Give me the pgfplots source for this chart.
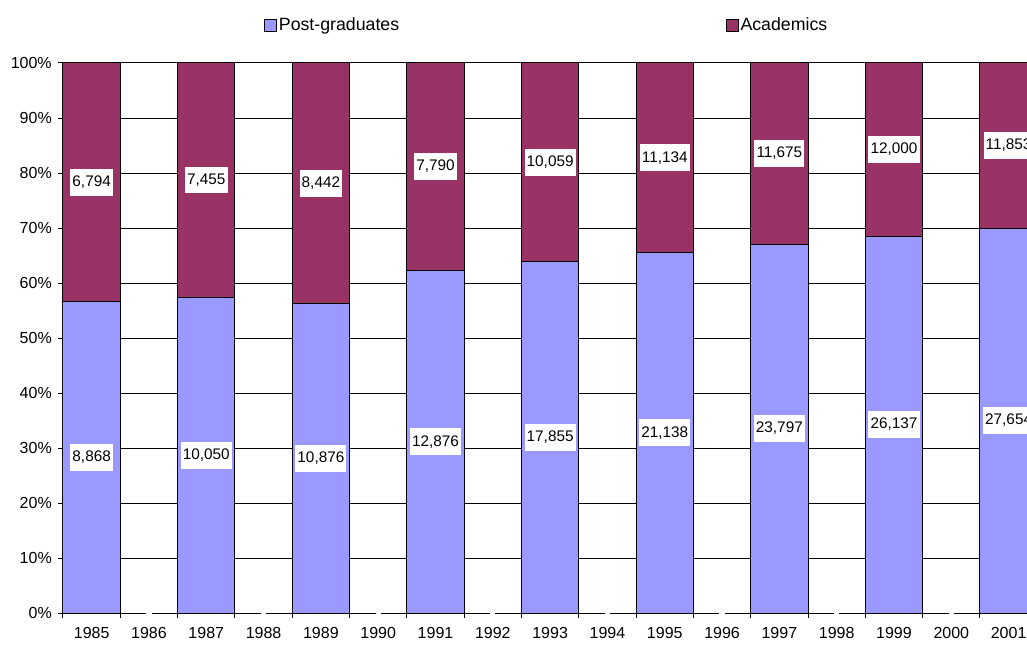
\documentclass[border=0pt]{standalone}
\usepackage{pgfplots}
\pgfplotsset{compat=1.18}
\usepackage{fontspec}
\setmainfont{Liberation Sans}
\definecolor{pg}{HTML}{9999FF}
\definecolor{ac}{HTML}{993366}
\pgfplotstableread{
x y lab
0 28.31 8,868
2 28.71 10,050
4 28.15 10,876
6 31.15 12,876
8 31.98 17,855
10 32.75 21,138
12 33.54 23,797
14 34.27 26,137
16 35.00 27,654
0 78.31 6,794
2 78.71 7,455
4 78.15 8,442
6 81.16 7,790
8 81.98 10,059
10 82.75 11,134
12 83.55 11,675
14 84.27 12,000
16 85.00 11,853
}\labels
\begin{document}
\fontsize{12}{14}\selectfont
\begin{tikzpicture}[x=1pt,y=1pt]
\path[use as bounding box] (0,0) rectangle (770.25,483);
\clip (0,0) rectangle (770.25,483);
\pgfplotsset{
  common/.style={
    at={(47.25pt,23.25pt)}, anchor=south west,
    scale only axis, width=730.7pt, height=412.5pt,
    xmin=-0.5, xmax=16.5, ymin=0, ymax=100,
  }
}
\begin{axis}[common,
  ybar stacked, bar width=1,
  axis x line=bottom, axis y line=left,
  axis line style={-, black, line width=0.75pt},
  tick align=outside,
  major tick length=3.75pt,
  minor tick length=3.75pt,
  xtick={0,1,...,16},
  xticklabels={1985,1986,1987,1988,1989,1990,1991,1992,1993,1994,1995,1996,1997,1998,1999,2000,2001},
  minor xtick={-0.5,0.5,...,16.5},
  major x tick style={draw=none},
  minor x tick style={black, line width=0.75pt},
  ytick={0,10,...,100},
  yticklabels={0\%,10\%,20\%,30\%,40\%,50\%,60\%,70\%,80\%,90\%,100\%},
  y tick style={black, line width=0.75pt},
  ymajorgrids,
  major grid style={black, line width=0.75pt},
  xticklabel style={yshift=-3pt},
  yticklabel style={xshift=-0.5pt},
  tick label style={font=\fontsize{12}{14}\selectfont},
  legend image code/.code={\draw[#1,draw=black,line width=0.7pt] (0pt,-4.4pt) rectangle (8.8pt,4.4pt);},
  legend style={at={(0.2063,1.068)}, anchor=west, draw=none, fill=none, inner sep=0pt,
    legend columns=2, font=\fontsize{13.3}{15}\selectfont,
    nodes={inner xsep=1.5pt},
    /tikz/every even column/.append style={column sep=243.5pt}},
  legend cell align=left,
]
\addplot[fill=pg, draw=black, line width=0.75pt] coordinates {(0,56.62) (2,57.41) (4,56.30) (6,62.31) (8,63.96) (10,65.50) (12,67.09) (14,68.53) (16,70.00)};
\addplot[fill=ac, draw=black, line width=0.75pt] coordinates {(0,43.38) (2,42.59) (4,43.70) (6,37.69) (8,36.04) (10,34.50) (12,32.91) (14,31.47) (16,30.00)};
\legend{Post-graduates, Academics}
\end{axis}
\begin{axis}[common, hide axis, clip=false]
\addplot[white, line width=2pt, unbounded coords=jump] coordinates {
(0.955,0) (1.045,0) (nan,nan) (2.955,0) (3.045,0) (nan,nan) (4.955,0) (5.045,0) (nan,nan)
(6.955,0) (7.045,0) (nan,nan) (8.955,0) (9.045,0) (nan,nan) (10.955,0) (11.045,0) (nan,nan)
(12.955,0) (13.045,0) (nan,nan) (14.955,0) (15.045,0)};
\addplot[draw=none, mark=none, nodes near coords, point meta=explicit symbolic,
  every node near coord/.style={fill=white, text=black, anchor=center, inner xsep=1.6pt,
    inner ysep=5.3pt, font=\fontsize{11.5}{13.5}\selectfont}]
  table[x=x, y=y, meta=lab] {\labels};
\end{axis}
\end{tikzpicture}
\end{document}
